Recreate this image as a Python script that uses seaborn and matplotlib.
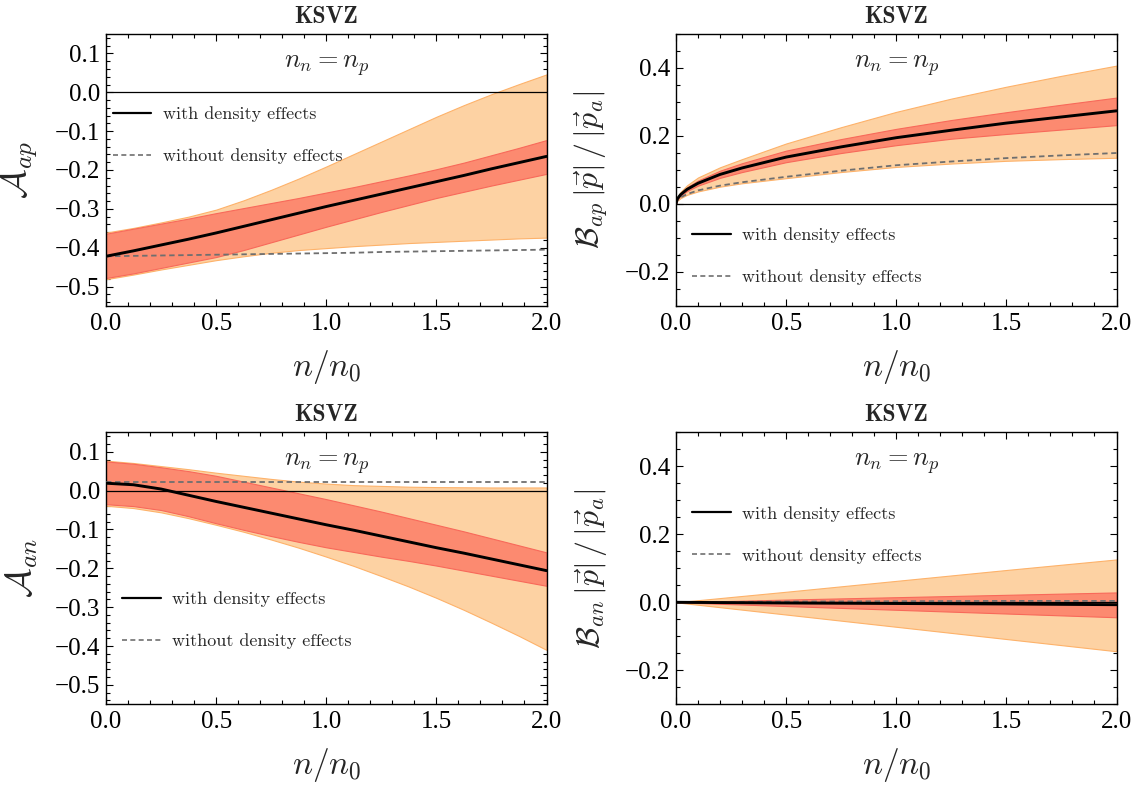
import matplotlib
matplotlib.use("Agg")
import matplotlib.pyplot as plt
import seaborn as sns
from matplotlib.ticker import MultipleLocator, FuncFormatter
from matplotlib.lines import Line2D

# ---------------- data ----------------
# Panel 1: A_ap
x_ap = [0.0, 0.125, 0.25, 0.375, 0.5, 0.625, 0.75, 0.875, 1.0,
        1.125, 1.25, 1.375, 1.5, 1.625, 1.75, 1.875, 2.0]
ap_with = [-0.422, -0.408, -0.393, -0.378, -0.362, -0.345, -0.328, -0.311, -0.294,
           -0.278, -0.262, -0.246, -0.230, -0.214, -0.197, -0.181, -0.165]
ap_red_hi = [-0.364, -0.351, -0.338, -0.325, -0.311, -0.298, -0.285, -0.272, -0.258,
             -0.244, -0.229, -0.214, -0.198, -0.181, -0.162, -0.143, -0.123]
ap_red_lo = [-0.478, -0.466, -0.452, -0.438, -0.424, -0.406, -0.386, -0.366, -0.346,
             -0.327, -0.308, -0.290, -0.272, -0.256, -0.240, -0.225, -0.210]
ap_or_hi = [-0.361, -0.349, -0.335, -0.320, -0.302, -0.278, -0.251, -0.222, -0.191,
            -0.159, -0.127, -0.095, -0.063, -0.033, -0.005, 0.021, 0.046]
ap_or_lo = [-0.481, -0.469, -0.456, -0.444, -0.432, -0.422, -0.413, -0.406, -0.401,
            -0.396, -0.392, -0.388, -0.385, -0.382, -0.379, -0.376, -0.374]
ap_without = [-0.422, -0.421, -0.420, -0.419, -0.418, -0.417, -0.416, -0.415, -0.414,
              -0.413, -0.411, -0.410, -0.409, -0.408, -0.407, -0.406, -0.405]

# Panel 2: B_ap |p|/|p_a|
x_bp = [0.0, 0.005, 0.02, 0.05, 0.1, 0.2, 0.3, 0.5, 0.75, 1.0, 1.25, 1.5, 1.75, 2.0]
bp_with = [0.0, 0.014, 0.027, 0.043, 0.061, 0.087, 0.106, 0.138, 0.168, 0.195, 0.217, 0.238, 0.256, 0.274]
bp_red_hi = [0.0, 0.016, 0.031, 0.049, 0.069, 0.098, 0.120, 0.157, 0.191, 0.221, 0.247, 0.270, 0.292, 0.313]
bp_red_lo = [0.0, 0.012, 0.024, 0.038, 0.054, 0.077, 0.094, 0.123, 0.150, 0.173, 0.192, 0.206, 0.219, 0.232]
bp_or_hi = [0.0, 0.018, 0.035, 0.055, 0.078, 0.108, 0.132, 0.178, 0.226, 0.271, 0.310, 0.345, 0.377, 0.407]
bp_or_lo = [0.0, 0.009, 0.017, 0.027, 0.037, 0.051, 0.061, 0.076, 0.094, 0.109, 0.119, 0.127, 0.132, 0.136]
bp_without = [0.0, 0.010, 0.019, 0.029, 0.040, 0.054, 0.064, 0.080, 0.098, 0.114, 0.125, 0.135, 0.143, 0.150]

# Panel 3: A_an
x_an = [0.0, 0.125, 0.25, 0.375, 0.5, 0.625, 0.75, 0.875, 1.0,
        1.125, 1.25, 1.375, 1.5, 1.625, 1.75, 1.875, 2.0]
an_with = [0.019, 0.015, 0.004, -0.012, -0.028, -0.043, -0.058, -0.073, -0.088,
           -0.102, -0.117, -0.132, -0.147, -0.161, -0.176, -0.191, -0.206]
an_red_hi = [0.075, 0.069, 0.060, 0.050, 0.038, 0.023, 0.008, -0.007, -0.022,
             -0.038, -0.054, -0.071, -0.088, -0.105, -0.123, -0.141, -0.159]
an_red_lo = [-0.035, -0.040, -0.050, -0.066, -0.084, -0.101, -0.117, -0.132, -0.146,
             -0.158, -0.170, -0.181, -0.193, -0.206, -0.219, -0.232, -0.245]
an_or_hi = [0.077, 0.071, 0.063, 0.055, 0.046, 0.038, 0.030, 0.023, 0.018,
            0.014, 0.012, 0.010, 0.009, 0.0085, 0.008, 0.008, 0.008]
an_or_lo = [-0.039, -0.045, -0.056, -0.071, -0.088, -0.106, -0.126, -0.147, -0.170,
            -0.194, -0.220, -0.247, -0.276, -0.307, -0.340, -0.374, -0.410]
an_without = [0.021] * 17

# Panel 4: B_an |p|/|p_a|
x_bn = [0.0, 0.5, 1.0, 1.5, 2.0]
bn_with = [0.0, -0.002, -0.0035, -0.005, -0.007]
bn_red_hi = [0.0, 0.008, 0.015, 0.022, 0.029]
bn_red_lo = [0.0, -0.011, -0.022, -0.033, -0.044]
bn_or_hi = [0.0, 0.031, 0.063, 0.095, 0.126]
bn_or_lo = [0.0, -0.036, -0.072, -0.108, -0.144]
bn_without = [0.0, 0.002, 0.003, 0.004, 0.004]

title_text = "KSVZ"
legend_labels = ["with density effects", "without density effects"]
annot_text = r"$n_n = n_p$"
x_label = r"$n/n_0$"
y_labels = [r"$\mathcal{A}_{ap}$",
            r"$\mathcal{B}_{ap}\,|\vec{p}|\,/\,|\vec{p}_a|$",
            r"$\mathcal{A}_{an}$",
            r"$\mathcal{B}_{an}\,|\vec{p}|\,/\,|\vec{p}_a|$"]

# ---------------- styling ----------------
sns.set_theme(style="ticks")
plt.rcParams["font.family"] = ["Liberation Serif", "DejaVu Serif"]
plt.rcParams["mathtext.fontset"] = "cm"
plt.rcParams["axes.unicode_minus"] = True

OR_FACE, OR_EDGE = "#FDD2A3", "#FDB26A"
RED_FACE, RED_EDGE = "#FC8A70", "#F8695A"
DASH_COL = "#6f6f6f"

fig = plt.figure(figsize=(11.42, 7.87), dpi=100)

W, H = 1142.0, 787.0
col_left = [106 / W, 676 / W]
ax_w = 440.5 / W
row_bottom = [1 - 306 / H, 1 - 704.3 / H]
ax_h = 272 / H

panels = [
    dict(x=x_ap, w=ap_with, rh=ap_red_hi, rl=ap_red_lo, oh=ap_or_hi, ol=ap_or_lo, wo=ap_without,
         pos=(0, 0), ylim=(-0.55, 0.15), major=0.1, minor=0.02, leg=(0.015, 0.700), ysize=26),
    dict(x=x_bp, w=bp_with, rh=bp_red_hi, rl=bp_red_lo, oh=bp_or_hi, ol=bp_or_lo, wo=bp_without,
         pos=(0, 1), ylim=(-0.3, 0.5), major=0.2, minor=0.05, leg=(0.036, 0.255), ysize=23),
    dict(x=x_an, w=an_with, rh=an_red_hi, rl=an_red_lo, oh=an_or_hi, ol=an_or_lo, wo=an_without,
         pos=(1, 0), ylim=(-0.55, 0.15), major=0.1, minor=0.02, leg=(0.036, 0.380), ysize=26),
    dict(x=x_bn, w=bn_with, rh=bn_red_hi, rl=bn_red_lo, oh=bn_or_hi, ol=bn_or_lo, wo=bn_without,
         pos=(1, 1), ylim=(-0.3, 0.5), major=0.2, minor=0.05, leg=(0.036, 0.695), ysize=23),
]


def fmt(v, pos):
    s = f"{v:.1f}"
    if s == "-0.0":
        s = "0.0"
    return s.replace("-", "\u2212")


for i, p in enumerate(panels):
    r, c = p["pos"]
    ax = fig.add_axes([col_left[c], row_bottom[r], ax_w, ax_h])

    ax.fill_between(p["x"], p["ol"], p["oh"], facecolor=OR_FACE, edgecolor=OR_EDGE,
                    linewidth=0.8, zorder=1)
    ax.fill_between(p["x"], p["rl"], p["rh"], facecolor=RED_FACE, edgecolor=RED_EDGE,
                    linewidth=0.8, zorder=2)
    ax.axhline(0, color="black", lw=0.9, zorder=3)
    sns.lineplot(x=p["x"], y=p["wo"], ax=ax, color=DASH_COL, lw=1.3,
                 linestyle=(0, (3, 2)), zorder=4)
    sns.lineplot(x=p["x"], y=p["w"], ax=ax, color="black", lw=2.1, zorder=5)

    ax.set_xlim(0, 2.0)
    ax.set_ylim(*p["ylim"])
    ax.xaxis.set_major_locator(MultipleLocator(0.5))
    ax.xaxis.set_minor_locator(MultipleLocator(0.1))
    ax.yaxis.set_major_locator(MultipleLocator(p["major"]))
    ax.yaxis.set_minor_locator(MultipleLocator(p["minor"]))
    ax.xaxis.set_major_formatter(FuncFormatter(fmt))
    ax.yaxis.set_major_formatter(FuncFormatter(fmt))

    ax.tick_params(which="both", direction="in", top=True, right=True,
                   colors="black", width=0.8)
    ax.tick_params(which="major", length=5, labelsize=18)
    ax.tick_params(axis="x", which="major", pad=5)
    ax.tick_params(axis="y", which="major", pad=4)
    ax.tick_params(which="minor", length=2.8)
    for sp in ax.spines.values():
        sp.set_color("black")
        sp.set_linewidth(1.0)
        sp.set_visible(True)

    ax.set_title(title_text, fontfamily="cmb10", fontsize=17, pad=8)
    ax.set_xlabel(x_label, fontsize=24)
    ax.xaxis.set_label_coords(0.5, -0.155)
    ax.set_ylabel(y_labels[i], fontsize=p["ysize"])
    ax.yaxis.set_label_coords(-0.15, 0.5)

    ax.text(0.5, 0.885, annot_text, transform=ax.transAxes, ha="center",
            va="center", fontsize=19)

    handles = [Line2D([], [], color="black", lw=1.6),
               Line2D([], [], color=DASH_COL, lw=1.2, linestyle=(0, (3, 2)))]
    lx, ly = p["leg"]
    ax.legend(handles, legend_labels, loc="upper left",
              bbox_to_anchor=(lx, ly + 0.035), frameon=False, borderpad=0,
              borderaxespad=0, handlelength=2.15, handletextpad=0.65,
              labelspacing=1.45, prop={"family": "cmr10", "size": 13})

fig.savefig("out.png", dpi=100)
